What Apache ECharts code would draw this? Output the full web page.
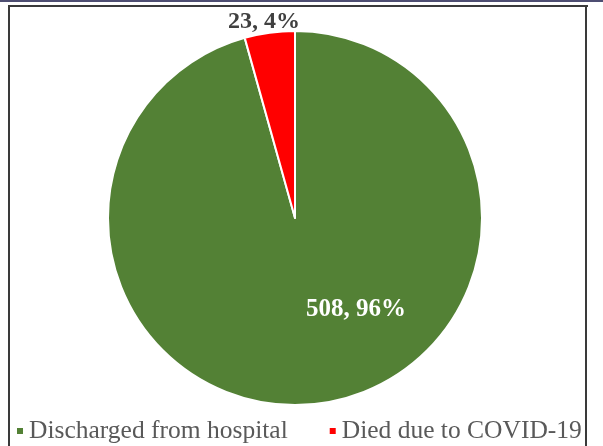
<!DOCTYPE html>
<html>
<head>
<meta charset="utf-8">
<script src="https://cdn.jsdelivr.net/npm/echarts@6/dist/echarts.min.js"></script>
<style>
html,body{margin:0;padding:0;background:#fff;overflow:hidden;}
#chart{position:absolute;left:0;top:0;width:603px;height:446px;}
</style>
</head>
<body>
<div id="chart"></div>
<script>
const categories = ["Discharged from hospital", "Died due to COVID-19"];
const counts = [508, 23];
const percents = [96, 4];
const colors = ["#538135", "#FF0000"];

const chart = echarts.init(document.getElementById('chart'));
const data = categories.map((name, i) => ({
  name: name,
  value: counts[i],
  itemStyle: { color: colors[i] },
  label: i === 0
    ? { color: '#ffffff', fontSize: 25 }
    : { color: '#404040', fontSize: 24 }
}));

chart.setOption({
  animation: false,
  graphic: [
    { type: 'rect', shape: { x: 0, y: 0, width: 603, height: 2 }, style: { fill: '#4e4e72' }, silent: true },
    { type: 'rect', shape: { x: 8, y: 5, width: 2, height: 441 }, style: { fill: '#3a3a3a' }, silent: true },
    { type: 'rect', shape: { x: 8, y: 5, width: 580, height: 2 }, style: { fill: '#3a3a3a' }, silent: true },
    { type: 'rect', shape: { x: 585, y: 5, width: 2, height: 441 }, style: { fill: '#3a3a3a' }, silent: true }
  ],
  legend: {
    data: categories,
    left: 10,
    top: 413,
    icon: 'rect',
    itemWidth: 8,
    itemHeight: 8,
    itemGap: 40,
    textStyle: { fontFamily: 'Liberation Serif', fontSize: 25.5, color: '#595959' }
  },
  series: [{
    type: 'pie',
    center: [295, 218],
    radius: 187,
    startAngle: 90,
    clockwise: true,
    data: data,
    itemStyle: { borderColor: '#ffffff', borderWidth: 2 },
    label: {
      show: true,
      position: 'inside',
      fontFamily: 'Liberation Serif',
      fontWeight: 'bold',
      formatter: p => counts[p.dataIndex] + ', ' + percents[p.dataIndex] + '%'
    },
    labelLine: { show: false },
    labelLayout: function (p) {
      if (p.dataIndex === 0) return { dx: 48, dy: -4 };
      return { dx: -18, dy: -101 };
    },
    emphasis: { disabled: true }
  }]
});
</script>
</body>
</html>
